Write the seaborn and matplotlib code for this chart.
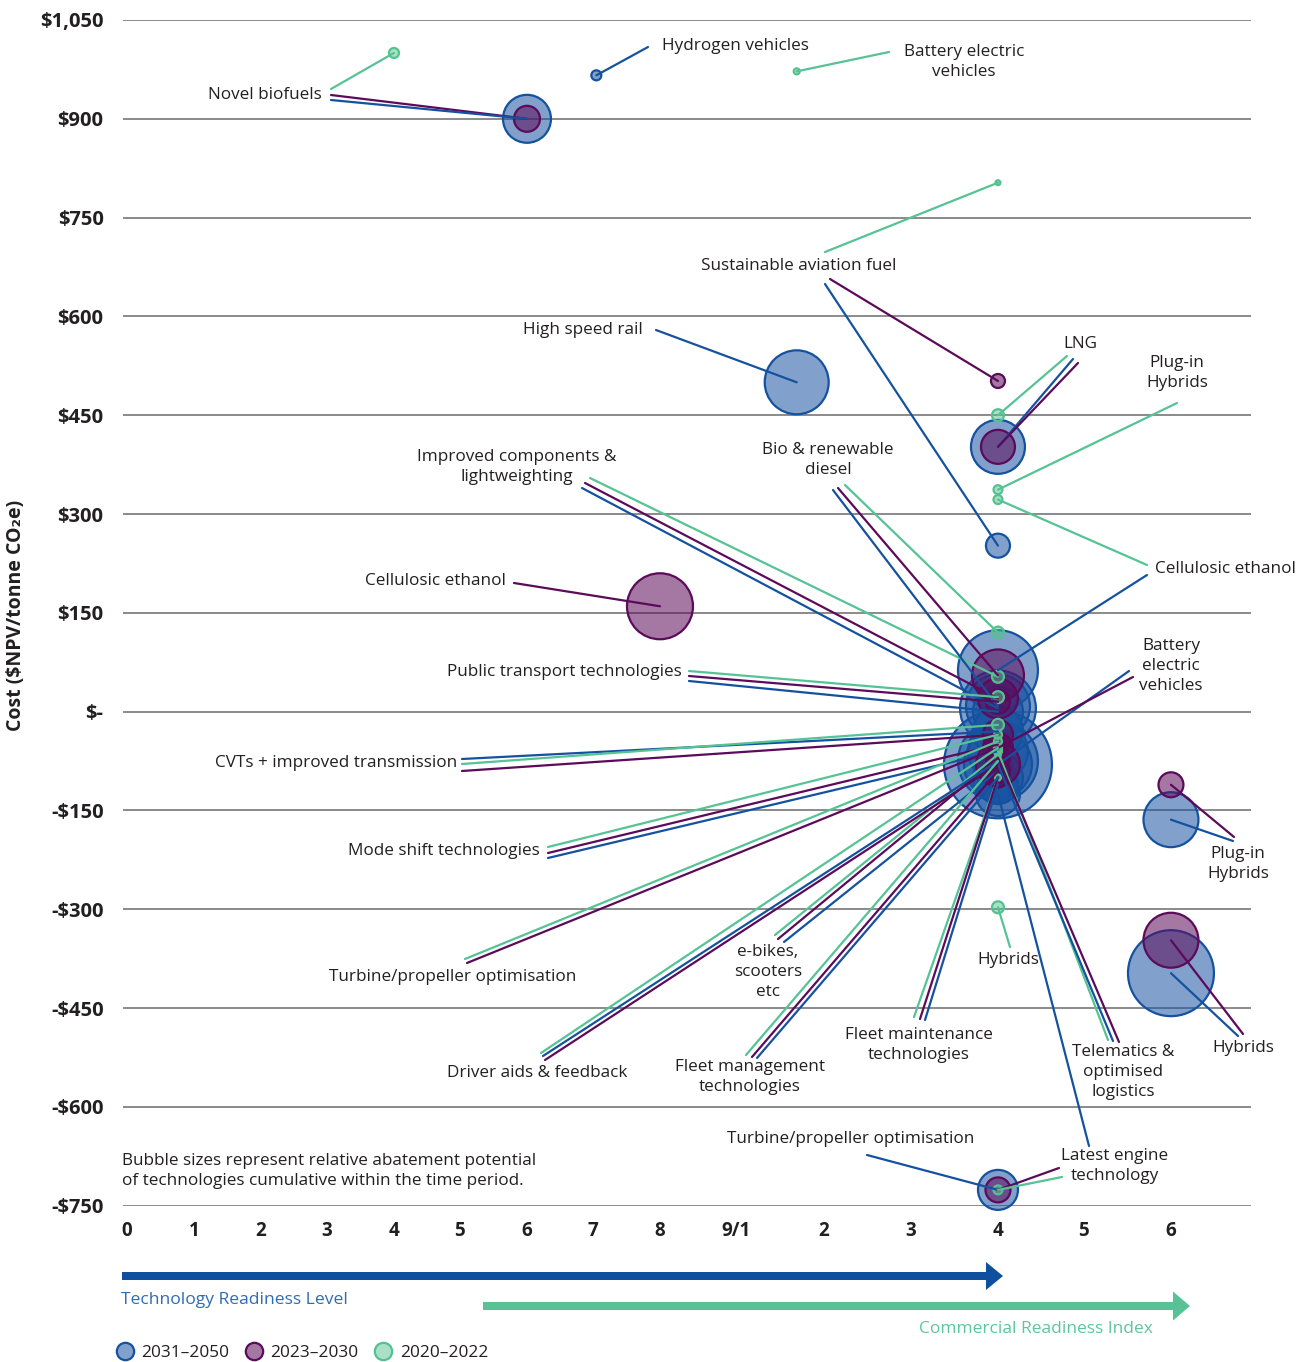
import numpy as np
import pandas as pd
import matplotlib
matplotlib.use("Agg")
import matplotlib.pyplot as plt
from matplotlib.patches import FancyArrow
from matplotlib.lines import Line2D
import seaborn as sns

# ---------------------------------------------------------------- data
# readiness: TRL 0-9, then CRI carries on as 9 (= CRI 1) ... 14 (= CRI 6)
P1, P2, P3 = "2031–2050", "2023–2030", "2020–2022"
periods = [P1, P2, P3]

x_ticks = list(range(15))
x_tick_labels = ["0", "1", "2", "3", "4", "5", "6", "7", "8", "9/1", "2", "3", "4", "5", "6"]
y_ticks = list(range(-750, 1051, 150))

tech = [
    "Novel biofuels", "Novel biofuels", "Novel biofuels",
    "Hydrogen vehicles",
    "Battery electric vehicles",
    "Sustainable aviation fuel", "Sustainable aviation fuel", "Sustainable aviation fuel",
    "High speed rail",
    "LNG", "LNG", "LNG",
    "Plug-in Hybrids", "Plug-in Hybrids", "Plug-in Hybrids",
    "Cellulosic ethanol", "Cellulosic ethanol", "Cellulosic ethanol",
    "Hybrids", "Hybrids", "Hybrids",
    "Latest engine technology", "Latest engine technology", "Latest engine technology",
    "Turbine/propeller optimisation", "Turbine/propeller optimisation", "Turbine/propeller optimisation",
    "Bio & renewable diesel", "Bio & renewable diesel", "Bio & renewable diesel",
    "Improved components & lightweighting", "Improved components & lightweighting",
    "Improved components & lightweighting",
    "Public transport technologies", "Public transport technologies", "Public transport technologies",
    "CVTs + improved transmission", "CVTs + improved transmission", "CVTs + improved transmission",
    "Mode shift technologies", "Mode shift technologies", "Mode shift technologies",
    "Driver aids & feedback", "Driver aids & feedback", "Driver aids & feedback",
    "e-bikes, scooters etc", "e-bikes, scooters etc", "e-bikes, scooters etc",
    "Fleet management technologies", "Fleet management technologies", "Fleet management technologies",
    "Fleet maintenance technologies", "Fleet maintenance technologies", "Fleet maintenance technologies",
    "Telematics & optimised logistics", "Telematics & optimised logistics",
    "Telematics & optimised logistics",
    "Battery electric vehicles", "Battery electric vehicles",
]
period = [
    P3, P2, P1,
    P1,
    P3,
    P3, P2, P1,
    P1,
    P3, P1, P2,
    P3, P2, P1,
    P3, P2, P1,
    P3, P2, P1,
    P1, P2, P3,
    P1, P3, P2,
    P3, P2, P1,
    P3, P2, P1,
    P3, P2, P1,
    P3, P2, P1,
    P3, P2, P1,
    P3, P2, P1,
    P3, P2, P1,
    P3, P2, P1,
    P3, P2, P1,
    P3, P2, P1,
    P2, P1,
]
readiness = [
    4, 6, 6,
    7.05,
    9.69,
    12, 12, 12,
    9.69,
    12, 12, 12,
    12, 14, 14,
    12, 8, 12,
    12, 14, 14,
    12, 12, 12,
    12, 12, 12,
    12, 12, 12,
    12, 12, 12,
    12, 12, 12,
    12, 12, 12,
    12, 12, 12,
    12, 12, 12,
    12, 12, 12,
    12, 12, 12,
    12, 12, 12,
    12, 12, 12,
    12, 12,
]
cost = [
    1000, 900, 900,
    966,
    972,
    803, 502, 252,
    500,
    450, 402, 402,
    337, -111, -164,
    322, 160, 63,
    -297, -347, -397,
    -125, -726, -726,
    -726, -45, -55,
    120, 55, 8,
    53, 20, 5,
    22, 15, 0,
    -20, -35, -30,
    -35, -50, -60,
    -55, -80, -75,
    -65, -70, -90,
    -75, -90, -100,
    -100, -100, -110,
    -60, -70, -80,
    -55, -80,
]
abatement = [
    0.25, 1.69, 5.76,
    0.25,
    0.09,
    0.06, 0.49, 1.44,
    10.24,
    0.36, 7.29, 2.89,
    0.2, 1.56, 7.56,
    0.2, 10.9, 16.0,
    0.36, 7.56, 18.5,
    4.84, 1.56, 0.2,
    4.0, 0.16, 0.64,
    0.36, 6.76, 10.24,
    0.36, 4.0, 14.4,
    0.36, 1.44, 6.25,
    0.36, 2.25, 6.25,
    0.16, 1.0, 9.0,
    0.16, 4.84, 16.0,
    0.09, 0.64, 2.25,
    0.09, 1.44, 6.25,
    0.09, 1.0, 4.0,
    0.16, 1.44, 11.56,
    2.25, 29.16,
]

df = pd.DataFrame(dict(tech=tech, period=period, readiness=readiness,
                       cost=cost, abatement=abatement))

# ---------------------------------------------------------------- layout
W, H = 1308, 1362
fill = {P1: (0.10, 0.33, 0.64, 0.55), P2: (0.36, 0.04, 0.35, 0.55), P3: (0.33, 0.76, 0.56, 0.50)}
edge = {P1: "#1452a0", P2: "#5c0a5a", P3: "#55c190"}
line_col = {P1: "#1452a0", P2: "#5c0a5a", P3: "#55c394"}
text_col = "#231f20"
FS = 12.3

# label text, x, y (reference pixels, top-left origin), alignment
labels = [
    ("Novel biofuels", 322, 95, "right"),
    ("Hydrogen vehicles", 662, 46, "left"),
    ("Battery electric\nvehicles", 964, 62, "center"),
    ("Sustainable aviation fuel", 799, 266, "center"),
    ("High speed rail", 643, 330, "right"),
    ("LNG", 1080, 344, "center"),
    ("Plug-in\nHybrids", 1177, 373, "center"),
    ("Improved components &\nlightweighting", 517, 467, "center"),
    ("Bio & renewable\ndiesel", 828, 460, "center"),
    ("Cellulosic ethanol", 506, 581, "right"),
    ("Cellulosic ethanol", 1155, 569, "left"),
    ("Public transport technologies", 682, 672, "right"),
    ("Battery\nelectric\nvehicles", 1171, 666, "center"),
    ("CVTs + improved transmission", 457, 763, "right"),
    ("Mode shift technologies", 540, 851, "right"),
    ("Plug-in\nHybrids", 1238, 864, "center"),
    ("e-bikes,\nscooters\netc", 768, 972, "center"),
    ("Hybrids", 1008, 960, "center"),
    ("Turbine/propeller optimisation", 453, 977, "center"),
    ("Fleet maintenance\ntechnologies", 919, 1045, "center"),
    ("Hybrids", 1243, 1048, "center"),
    ("Telematics &\noptimised\nlogistics", 1123, 1072, "center"),
    ("Driver aids & feedback", 537, 1073, "center"),
    ("Fleet management\ntechnologies", 750, 1077, "center"),
    ("Turbine/propeller optimisation", 851, 1139, "center"),
    ("Latest engine\ntechnology", 1115, 1166, "center"),
]

# leader lines: bubble (tech, period) <- start point near the label
leaders = [
    ("Novel biofuels", P3, 331, 89), ("Novel biofuels", P2, 331, 95), ("Novel biofuels", P1, 331, 100),
    ("Hydrogen vehicles", P1, 648, 47),
    ("Battery electric vehicles", P3, 889, 52),
    ("Sustainable aviation fuel", P3, 825, 252), ("Sustainable aviation fuel", P2, 830, 279),
    ("Sustainable aviation fuel", P1, 825, 284),
    ("High speed rail", P1, 656, 330),
    ("LNG", P3, 1067, 356), ("LNG", P1, 1073, 359), ("LNG", P2, 1078, 363),
    ("Plug-in Hybrids", P3, 1177, 403),
    ("Cellulosic ethanol", P3, 1147, 565), ("Cellulosic ethanol", P1, 1147, 575),
    ("Cellulosic ethanol", P2, 514, 583),
    ("Improved components & lightweighting", P3, 590, 478),
    ("Improved components & lightweighting", P2, 585, 483),
    ("Improved components & lightweighting", P1, 582, 488),
    ("Bio & renewable diesel", P1, 833, 490), ("Bio & renewable diesel", P2, 838, 488),
    ("Bio & renewable diesel", P3, 845, 485),
    ("Public transport technologies", P3, 689, 671), ("Public transport technologies", P2, 689, 676),
    ("Public transport technologies", P1, 689, 681),
    ("Battery electric vehicles", P1, 1129, 671), ("Battery electric vehicles", P2, 1133, 677),
    ("CVTs + improved transmission", P1, 462, 759), ("CVTs + improved transmission", P3, 462, 764),
    ("CVTs + improved transmission", P2, 462, 771),
    ("Mode shift technologies", P3, 548, 847), ("Mode shift technologies", P2, 548, 853),
    ("Mode shift technologies", P1, 548, 858),
    ("Plug-in Hybrids", P2, 1234, 837), ("Plug-in Hybrids", P1, 1233, 841),
    ("Turbine/propeller optimisation", P3, 465, 959), ("Turbine/propeller optimisation", P2, 467, 963),
    ("e-bikes, scooters etc", P3, 775, 935), ("e-bikes, scooters etc", P2, 778, 939),
    ("e-bikes, scooters etc", P1, 784, 942),
    ("Hybrids", P3, 1010, 947),
    ("Fleet maintenance technologies", P3, 914, 1017), ("Fleet maintenance technologies", P2, 920, 1019),
    ("Fleet maintenance technologies", P1, 925, 1020),
    ("Hybrids", P2, 1243, 1034), ("Hybrids", P1, 1238, 1036),
    ("Telematics & optimised logistics", P3, 1108, 1040),
    ("Telematics & optimised logistics", P1, 1113, 1041),
    ("Telematics & optimised logistics", P2, 1119, 1042),
    ("Driver aids & feedback", P3, 541, 1053), ("Driver aids & feedback", P1, 543, 1056),
    ("Driver aids & feedback", P2, 545, 1060),
    ("Fleet management technologies", P3, 746, 1055), ("Fleet management technologies", P2, 752, 1057),
    ("Fleet management technologies", P1, 757, 1058),
    ("Turbine/propeller optimisation", P1, 867, 1155),
    ("Latest engine technology", P1, 1089, 1146), ("Latest engine technology", P2, 1059, 1168),
    ("Latest engine technology", P3, 1062, 1177),
]

sns.set_style("white")
plt.rcParams["font.family"] = ["Open Sans", "DejaVu Sans"]

fig = plt.figure(figsize=(W / 100, H / 100), dpi=100)
ax = fig.add_axes([123 / W, 1 - 1205.7 / H, (1251 - 123) / W, (1205.7 - 20) / H])

# uneven spacing of the two readiness scales
knots_r = np.arange(-1, 16)
knots_p = np.array([60.4, 127, 194, 261, 327, 394, 460, 527, 593, 660,
                    736, 824, 911, 998, 1084, 1171, 1258])
ax.set_xscale("function", functions=(lambda r: np.interp(r, knots_r, knots_p),
                                     lambda p: np.interp(p, knots_p, knots_r)))

# bubbles, back to front
amax = df["abatement"].max()
for i, p in enumerate(periods):
    sub = df[df["period"] == p].sort_values("abatement", ascending=False)
    sns.scatterplot(data=sub, x="readiness", y="cost", size="abatement",
                    sizes=(0, 207 * amax), size_norm=(0, amax),
                    facecolor=fill[p], edgecolor=edge[p], linewidth=1.6,
                    legend=False, clip_on=False, zorder=2 + i, ax=ax)

bubble = {(t, p): (r, c) for t, p, r, c in zip(tech, period, readiness, cost)}
for t, p, xp, yp in leaders:
    ax.annotate("", xy=bubble[(t, p)], xycoords="data",
                xytext=(xp, H - yp), textcoords="figure pixels",
                arrowprops=dict(arrowstyle="-", color=line_col[p], lw=1.6,
                                shrinkA=0, shrinkB=0),
                zorder=6, annotation_clip=False)

for txt, xp, yp, ha in labels:
    ax.annotate(txt, xy=(xp, H - yp), xycoords="figure pixels", ha=ha, va="center",
                fontsize=FS, color=text_col, linespacing=1.3, multialignment="center",
                annotation_clip=False)

ax.set_xlim(-0.06, 14.92)
ax.set_ylim(-750, 1050)
ax.set_xticks(x_ticks, x_tick_labels)
ax.xaxis.set_minor_locator(matplotlib.ticker.NullLocator())
ax.set_yticks(y_ticks, [f"${v:,}" if v > 0 else ("$-" if v == 0 else f"-${-v:,}") for v in y_ticks])
ax.tick_params(axis="both", length=0, labelcolor=text_col)
ax.tick_params(axis="y", pad=14, labelsize=14.5)
ax.tick_params(axis="x", pad=11, labelsize=13.5)
for lab in ax.get_xticklabels() + ax.get_yticklabels():
    lab.set_fontweight("bold")
ax.yaxis.grid(True, color="#6b6b6b", lw=1.1)
ax.xaxis.grid(False)
ax.set_axisbelow(True)
sns.despine(ax=ax, left=True, bottom=True)
ax.set_xlabel("")
ax.set_ylabel("")

fig.text(16 / W, 1 - 615 / H, "Cost ($NPV/tonne CO₂e)", rotation=90, ha="center", va="center",
         fontsize=14, fontweight="bold", color=text_col)

fig.text(122 / W, 1 - 1171 / H,
         "Bubble sizes represent relative abatement potential\nof technologies cumulative within the time period.",
         ha="left", va="center", fontsize=FS, color=text_col, linespacing=1.3)

# readiness arrows
fig.add_artist(FancyArrow(1.22, (H - 1276) / 100, 10.03 - 1.22, 0, width=0.08, head_width=0.28,
                          head_length=0.17, length_includes_head=True, color="#0f4f9e", lw=0,
                          transform=fig.dpi_scale_trans))
fig.add_artist(FancyArrow(4.83, (H - 1306) / 100, 11.90 - 4.83, 0, width=0.08, head_width=0.29,
                          head_length=0.17, length_includes_head=True, color="#57c295", lw=0,
                          transform=fig.dpi_scale_trans))
fig.text(121 / W, 1 - 1300 / H, "Technology Readiness Level", ha="left", va="center",
         fontsize=12.6, color="#2f6cb3")
fig.text(1153 / W, 1 - 1329 / H, "Commercial Readiness Index", ha="right", va="center",
         fontsize=12.5, color="#5cc69b")

handles = [Line2D([], [], marker="o", ls="", markersize=12.5, markerfacecolor=fill[p],
                  markeredgecolor=edge[p], markeredgewidth=1.6) for p in periods]
fig.legend(handles, periods, loc="center left", bbox_to_anchor=(116 / W, 1 - 1353 / H), ncol=3,
           frameon=False, fontsize=12.4, handletextpad=0.45, columnspacing=0.95, handlelength=1.0,
           borderaxespad=0, borderpad=0, labelcolor=text_col)

fig.savefig("out.png", dpi=100)
